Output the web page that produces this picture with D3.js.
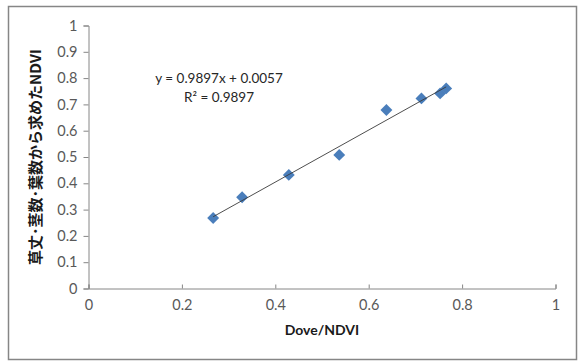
<!DOCTYPE html>
<html><head><meta charset="utf-8">
<script src="https://cdn.jsdelivr.net/npm/d3@7"></script>
<style>body{margin:0;background:#fff}svg{display:block}</style>
</head><body>
<script>
const xValues = [0.268, 0.330, 0.430, 0.538, 0.639, 0.714, 0.754, 0.767];
const yValues = [0.266, 0.345, 0.430, 0.506, 0.677, 0.721, 0.740, 0.759];
const xTicks = [0, 0.2, 0.4, 0.6, 0.8, 1];
const yTicks = [0, 0.1, 0.2, 0.3, 0.4, 0.5, 0.6, 0.7, 0.8, 0.9, 1];
const slope = 0.9897, intercept = 0.0057;
const eqText = "y = 0.9897x + 0.0057";
const r2Text = "R² = 0.9897";
const xTitle = "Dove/NDVI";
const yTitle = "草丈･茎数･葉数から求めたNDVI";

const W = 583, H = 361;
const svg = d3.select("body").append("svg").attr("width", W).attr("height", H);
svg.append("rect").attr("x", 8.5).attr("y", 6.5).attr("width", 568).attr("height", 353)
  .attr("fill", "#fff").attr("stroke", "#868686").attr("stroke-width", 1.5);

const x = d3.scaleLinear().domain([0, 1]).range([88, 555]);
const y = d3.scaleLinear().domain([0, 1]).range([288, 25]);
const font = "Lato, 'Open Sans', sans-serif";
const fmt = d => d === 0 ? "0" : d === 1 ? "1" : d3.format(".1f")(d);

const gy = svg.append("g").attr("transform", "translate(88.5,0.5)")
  .call(d3.axisLeft(y).tickValues(yTicks).tickFormat(fmt).tickSize(5).tickPadding(6));
const gx = svg.append("g").attr("transform", "translate(0.5,288.5)")
  .call(d3.axisBottom(x).tickValues(xTicks).tickFormat(fmt).tickSizeInner(-4).tickSizeOuter(-4).tickPadding(11));
[gx, gy].forEach(g => {
  g.select(".domain").attr("stroke", "#868686");
  g.selectAll(".tick line").attr("stroke", "#868686");
  g.selectAll("text").attr("fill", "#595959").style("font-family", font).style("font-size", "14.5px");
});

const x0 = d3.min(xValues), x1 = d3.max(xValues);
const sym = d3.symbol().type(d3.symbolDiamond2).size(90);
svg.append("g").selectAll("path").data(xValues).join("path")
  .attr("d", sym)
  .attr("transform", (d, i) => `translate(${x(d)},${y(yValues[i])})`)
  .attr("fill", "#4A7EBB");
svg.append("line")
  .attr("x1", x(x0)).attr("y1", y(slope * x0 + intercept))
  .attr("x2", x(x1)).attr("y2", y(slope * x1 + intercept))
  .attr("stroke", "#3a3a3a").attr("stroke-width", 0.9);

svg.append("text").attr("x", 219).attr("y", 83).attr("text-anchor", "middle")
  .style("font-family", font).style("font-size", "13.5px").attr("fill", "#262626").text(eqText);
svg.append("text").attr("x", 219).attr("y", 102).attr("text-anchor", "middle")
  .style("font-family", font).style("font-size", "13.5px").attr("fill", "#262626").text(r2Text);

svg.append("text").attr("x", 322).attr("y", 335).attr("text-anchor", "middle")
  .style("font-family", font).style("font-size", "14px").style("font-weight", "bold")
  .attr("fill", "#1a1a1a").text(xTitle);
svg.append("text").attr("transform", "translate(41,157) rotate(-90)").attr("text-anchor", "middle")
  .style("font-family", "'Noto Sans CJK JP', sans-serif").style("font-size", "15px").style("font-weight", "bold")
  .attr("fill", "#1a1a1a").text(yTitle);
</script>
</body></html>
